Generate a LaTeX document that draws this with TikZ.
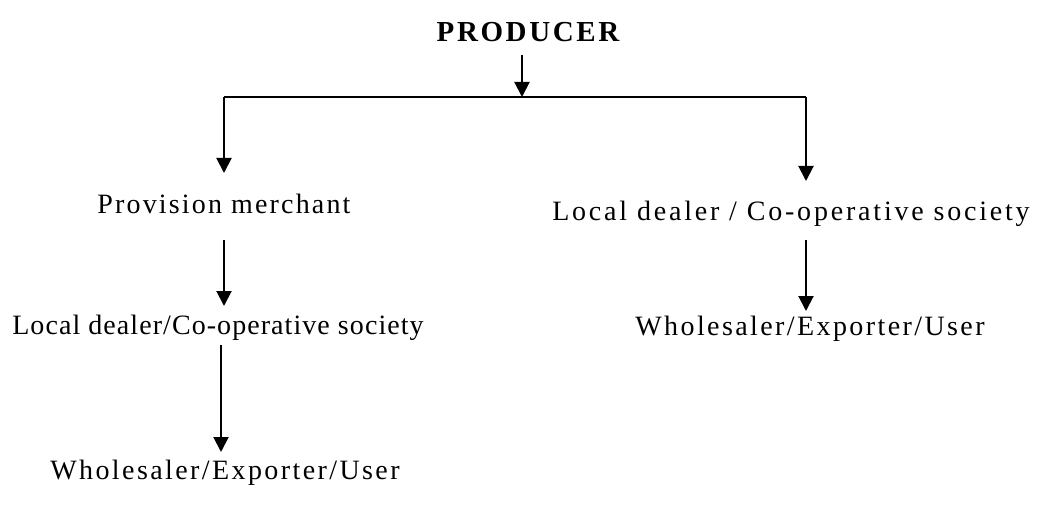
\documentclass[tikz,border=0pt]{standalone}
\usepackage{fontspec}
\setmainfont{Liberation Serif}
\usetikzlibrary{arrows.meta}
\newcommand{\ls}[1]{\addfontfeature{LetterSpace=#1}}
\begin{document}
\begin{tikzpicture}[x=1pt,y=-1pt,
  lbl/.style={inner sep=0pt,anchor=base,font=\fontsize{28}{32}\selectfont},
  arr/.style={line width=2pt,-{Triangle[length=15pt,width=15pt]}},
  ln/.style={line width=2pt}]
\useasboundingbox (0,0) rectangle (1039,505);
\node[lbl,font=\fontsize{29}{32}\selectfont\bfseries] (prod) at (528,42) {\ls{9}PRODUCER};
\node[lbl] (pm) at (224,214) {\ls{7.7}Provision merchant};
\node[lbl] (ldr) at (791,221) {\ls{10}Local dealer / Co-operative society};
\node[lbl] (ldl) at (218,334) {\ls{3.8}Local dealer/Co-operative society};
\node[lbl] (wr) at (810,335) {\ls{8.6}Wholesaler/Exporter/User};
\node[lbl] (wl) at (225,479) {\ls{8.6}Wholesaler/Exporter/User};
\coordinate (j) at (522,97);
\coordinate (jl) at (224,97);
\coordinate (jr) at (806,97);
\draw[arr] (522,55) -- (j);
\draw[ln] (jl) -- (jr);
\draw[arr] (jl) -- (224,173);
\draw[arr] (jr) -- (806,181);
\draw[arr] (224,240) -- (224,306);
\draw[arr] (221,345) -- (221,452);
\draw[arr] (806,240) -- (806,311);
\end{tikzpicture}
\end{document}
